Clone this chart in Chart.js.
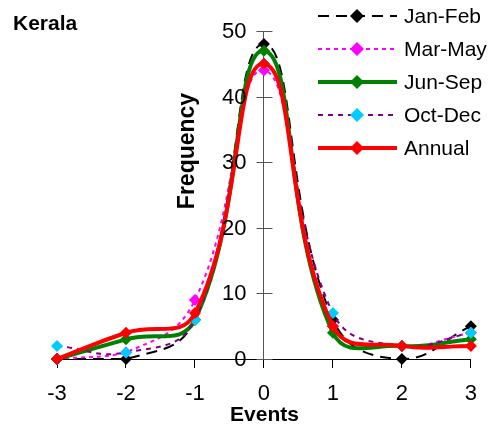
<!DOCTYPE html>
<html>
<head>
<meta charset="utf-8">
<script src="https://cdn.jsdelivr.net/npm/chart.js@4.4.0/dist/chart.umd.min.js"></script>
<style>
  html, body { margin: 0; padding: 0; background: #fff; }
  #wrap { width: 491px; height: 428px; position: relative; }
</style>
</head>
<body>
<div id="wrap"><canvas id="keralaChart"></canvas></div>
<script>
const events = [-3, -2, -1, 0, 1, 2, 3];
const janFeb = [0, 0, 6, 48, 6, 0, 5];
const marMay = [0, 1, 9, 44, 5, 2, 4];
const junSep = [0, 3, 6, 47, 4, 2, 3];
const octDec = [2, 1, 6, 45, 7, 2, 4];
const annual = [0, 4, 7, 45, 5, 2, 2];
const yTicks = [0, 10, 20, 30, 40, 50];

const toPoints = vals => events.map((e, i) => ({ x: e, y: vals[i] }));
const font = 'Liberation Sans, Arial, sans-serif';

// legend, titles and the y axis ticks (axis sits at x = 0)
const extras = {
    id: 'extras',
    afterDraw(chart) {
        const c = chart.ctx;
        const xs = chart.scales.x, ys = chart.scales.y;
        c.save();
        c.strokeStyle = '#555';
        c.lineWidth = 1;
        const ax = Math.round(xs.getPixelForValue(0)) + 0.5;
        c.fillStyle = '#000';
        c.font = '22px ' + font;
        c.textAlign = 'right';
        c.textBaseline = 'middle';
        yTicks.forEach(v => {
            const py = Math.round(ys.getPixelForValue(v)) + 0.5;
            c.beginPath();
            c.moveTo(ax - 8, py);
            c.lineTo(ax + 8, py);
            c.stroke();
            c.fillText(String(v), ax - 18, py);
        });
        c.textAlign = 'left';
        c.font = 'bold 21px ' + font;
        c.fillText('Kerala', 13, 24);
        c.textAlign = 'center';
        c.font = 'bold 21px ' + font;
        c.fillText('Events', ax, 415);
        c.save();
        c.translate(188, 151);
        c.rotate(-Math.PI / 2);
        c.font = 'bold 23px ' + font;
        c.fillText('Frequency', 0, 0);
        c.restore();
        // legend
        chart.data.datasets.forEach((ds, i) => {
            const y = 16 + i * 33;
            c.strokeStyle = ds.borderColor;
            c.lineWidth = ds.borderWidth;
            c.setLineDash(ds.borderDash || []);
            c.beginPath();
            c.moveTo(318, y);
            c.lineTo(397, y);
            c.stroke();
            c.setLineDash([]);
            c.fillStyle = ds.pointBackgroundColor;
            c.beginPath();
            c.moveTo(357, y - 7);
            c.lineTo(364, y);
            c.lineTo(357, y + 7);
            c.lineTo(350, y);
            c.closePath();
            c.fill();
            c.fillStyle = '#000';
            c.textAlign = 'left';
            c.font = '21px ' + font;
            c.fillText(ds.label, 404, y + 1);
        });
        c.restore();
    }
};

const common = {
    pointStyle: 'rectRot',
    pointRadius: 6,
    pointHoverRadius: 6,
    pointBorderWidth: 0,
    tension: 0.45,
    fill: false,
    clip: false
};

new Chart(document.getElementById('keralaChart'), {
    type: 'line',
    data: {
        datasets: [
            { ...common, label: 'Jan-Feb', data: toPoints(janFeb), borderColor: '#000000', pointBackgroundColor: '#000000', borderWidth: 2, borderDash: [11, 7], order: 5 },
            { ...common, label: 'Mar-May', data: toPoints(marMay), borderColor: '#ff00ff', pointBackgroundColor: '#ff00ff', borderWidth: 2, borderDash: [4, 4], order: 4 },
            { ...common, label: 'Jun-Sep', data: toPoints(junSep), borderColor: '#008000', pointBackgroundColor: '#008000', borderWidth: 4, order: 3 },
            { ...common, label: 'Oct-Dec', data: toPoints(octDec), borderColor: '#800080', pointBackgroundColor: '#00ccff', borderWidth: 2, borderDash: [5, 5], order: 2 },
            { ...common, label: 'Annual', data: toPoints(annual), borderColor: '#ff0000', pointBackgroundColor: '#ff0000', borderWidth: 4, order: 1 }
        ]
    },
    options: {
        responsive: true,
        maintainAspectRatio: false,
        animation: false,
        layout: { padding: { left: 57, right: 18, top: 31, bottom: 69 } },
        scales: {
            x: {
                type: 'linear',
                position: { y: 0 },
                min: -3,
                max: 3,
                afterBuildTicks: axis => { axis.ticks = events.map(v => ({ value: v })); },
                ticks: { color: '#000', padding: 14, font: { family: font, size: 22 } },
                grid: { drawOnChartArea: false, tickLength: 8, color: '#000' },
                border: { color: '#000', width: 1 }
            },
            y: {
                type: 'linear',
                position: { x: 0 },
                min: 0,
                max: 50,
                afterBuildTicks: axis => { axis.ticks = yTicks.map(v => ({ value: v })); },
                ticks: { display: false },
                grid: { display: false },
                border: { color: '#555', width: 1 }
            }
        },
        plugins: {
            legend: { display: false },
            tooltip: { enabled: false }
        }
    },
    plugins: [extras]
});
</script>
</body>
</html>
